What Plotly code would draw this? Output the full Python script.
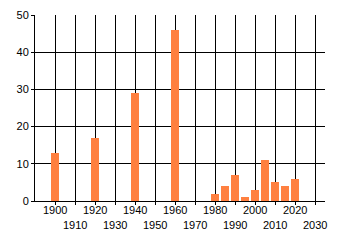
import plotly.graph_objects as go

years = [1900, 1920, 1940, 1960, 1980, 1985, 1990, 1995, 2000, 2005, 2010, 2015, 2020]
values = [13, 17, 29, 46, 2, 4, 7, 1, 3, 11, 5, 4, 6]
tick_years = list(range(1900, 2031, 10))
tick_labels = [str(y) for y in tick_years]
y_ticks = [0, 10, 20, 30, 40, 50]

fig = go.Figure(go.Bar(x=years, y=values, width=4, marker=dict(color="#ff8040", line=dict(width=0))))

font = dict(family="Liberation Sans, Arial, sans-serif", size=11, color="#000000")
fig.update_layout(
    width=340, height=245,
    margin=dict(l=35, r=15, t=15, b=44, autoexpand=False),
    paper_bgcolor="white", plot_bgcolor="white",
    showlegend=False, font=font, bargap=0,
)
for i, (tv, tl) in enumerate(zip(tick_years, tick_labels)):
    fig.add_annotation(
        x=tv, y=0, xref="x", yref="y", text=tl, showarrow=False,
        xanchor="center", yanchor="middle", yshift=-9 if i % 2 == 0 else -24,
        font=font,
    )
fig.update_xaxes(
    range=[1890, 2035], tickmode="array", tickvals=tick_years, showticklabels=False,
    showgrid=True, gridcolor="black", gridwidth=1,
    showline=True, linecolor="black", linewidth=1,
    ticks="outside", ticklen=3, tickcolor="black", zeroline=False,
    automargin=False,
)
fig.update_yaxes(
    range=[0, 50], tickvals=y_ticks,
    showgrid=True, gridcolor="black", gridwidth=1,
    showline=True, linecolor="black", linewidth=1,
    ticks="outside", ticklen=3, tickcolor="black", zeroline=False,
    automargin=False,
)
fig.write_html("out.html")
